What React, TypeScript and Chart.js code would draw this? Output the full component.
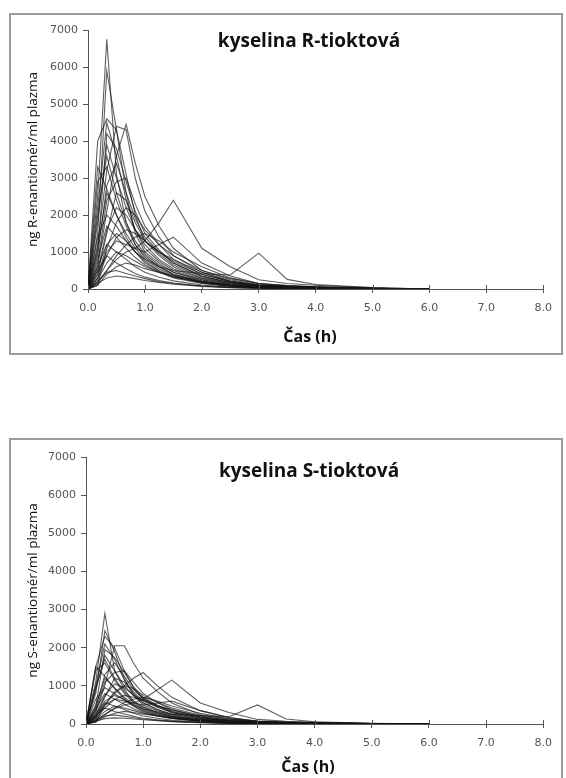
import React, { useEffect, useRef } from 'react';
import { Chart, registerables } from 'chart.js';

Chart.register(...registerables);

// sampling times (h)
const TIMES = [0, 0.17, 0.33, 0.5, 0.67, 0.83, 1, 1.25, 1.5, 2, 2.5, 3, 3.5, 4, 5, 6];

const X_TICKS_MIN = 0;
const X_TICKS_MAX = 8;
const Y_TICKS_MIN = 0;
const Y_TICKS_MAX = 7000;

const R_TITLE = 'kyselina R-tioktová';
const S_TITLE = 'kyselina S-tioktová';
const R_Y_LABEL = 'ng R-enantiomér/ml plazma';
const S_Y_LABEL = 'ng S-enantiomér/ml plazma';
const X_LABEL = 'Čas (h)';

// R-enantiomer plasma concentrations, one row per subject
const R_CONC = [
  [0, 2500, 6750, 3100, 1800, 1200, 900, 600, 400, 200, 100, 50, 30, 20, 10, 0],
  [0, 1500, 5900, 4300, 2600, 1500, 1000, 700, 450, 250, 120, 60, 40, 30, 10, 0],
  [0, 4000, 4600, 4300, 3100, 2000, 1300, 900, 600, 300, 150, 80, 50, 30, 10, 0],
  [0, 600, 2100, 3600, 4450, 3400, 2500, 1700, 1100, 500, 250, 120, 80, 50, 20, 0],
  [0, 1200, 3200, 4400, 4300, 3000, 2100, 1400, 900, 450, 200, 100, 60, 40, 15, 0],
  [0, 200, 500, 800, 1000, 1100, 1300, 1800, 2400, 1100, 600, 250, 150, 100, 30, 0],
  [0, 300, 1200, 1500, 1300, 1000, 800, 600, 500, 420, 380, 970, 260, 120, 40, 0],
  [0, 400, 1000, 1300, 1200, 1100, 1000, 1200, 1400, 700, 350, 150, 90, 60, 20, 0],
  [0, 2200, 4500, 3600, 2400, 1600, 1100, 750, 500, 250, 120, 70, 40, 30, 10, 0],
  [0, 1800, 3900, 3000, 2200, 1600, 1200, 800, 550, 280, 140, 70, 40, 25, 10, 0],
  [0, 900, 2800, 3400, 2600, 1900, 1400, 1000, 700, 350, 170, 90, 50, 30, 10, 0],
  [0, 2900, 3300, 2400, 1700, 1200, 850, 600, 400, 200, 100, 50, 30, 20, 5, 0],
  [0, 700, 2400, 2900, 3000, 2300, 1700, 1200, 800, 400, 200, 100, 60, 40, 15, 0],
  [0, 1100, 2600, 2000, 1500, 1100, 800, 550, 380, 180, 90, 40, 25, 15, 5, 0],
  [0, 500, 1600, 2200, 2000, 1600, 1300, 1000, 800, 450, 220, 110, 70, 45, 15, 0],
  [0, 1400, 2000, 1700, 1300, 1000, 750, 500, 350, 170, 80, 40, 25, 15, 5, 0],
  [0, 300, 900, 1400, 1600, 1500, 1300, 1000, 750, 400, 200, 100, 60, 40, 15, 0],
  [0, 800, 1700, 1400, 1100, 850, 650, 450, 300, 150, 70, 35, 20, 10, 5, 0],
  [0, 150, 500, 900, 1200, 1400, 1500, 1300, 1000, 600, 300, 150, 90, 60, 20, 0],
  [0, 600, 1200, 1000, 800, 600, 450, 320, 220, 110, 50, 25, 15, 10, 5, 0],
  [0, 250, 700, 1000, 900, 750, 600, 450, 330, 180, 90, 45, 25, 15, 5, 0],
  [0, 100, 400, 600, 700, 650, 550, 450, 350, 200, 100, 50, 30, 20, 5, 0],
  [0, 200, 450, 500, 420, 350, 280, 200, 150, 80, 40, 20, 10, 5, 0, 0],
  [0, 3300, 2700, 2000, 1400, 1000, 700, 480, 320, 160, 80, 40, 20, 10, 5, 0],
  [0, 1000, 4200, 3800, 2900, 2100, 1500, 1050, 700, 350, 170, 90, 50, 30, 10, 0],
  [0, 400, 1500, 2600, 2400, 1800, 1300, 950, 650, 330, 160, 80, 45, 30, 10, 0],
  [0, 2000, 3600, 2600, 1800, 1300, 950, 650, 450, 220, 110, 55, 30, 20, 5, 0],
  [0, 150, 300, 350, 320, 280, 230, 180, 130, 70, 35, 20, 10, 5, 0, 0],
  [0, 100, 1100, 1800, 2200, 2000, 1600, 1200, 900, 500, 280, 150, 80, 50, 20, 0],
  [0, 500, 900, 700, 550, 420, 320, 230, 160, 80, 40, 20, 10, 5, 0, 0],
];

// S-enantiomer plasma concentrations, one row per subject
const S_CONC = [
  [0, 1100, 2900, 1400, 900, 600, 450, 300, 200, 100, 50, 25, 15, 10, 5, 0],
  [0, 800, 2450, 1900, 1200, 750, 500, 350, 230, 120, 60, 30, 20, 15, 5, 0],
  [0, 1500, 2300, 2000, 1400, 950, 650, 450, 300, 150, 75, 40, 25, 15, 5, 0],
  [0, 300, 1000, 2050, 2050, 1600, 1200, 850, 550, 250, 120, 60, 40, 25, 10, 0],
  [0, 200, 500, 800, 1000, 1200, 1350, 1000, 700, 350, 170, 80, 50, 35, 10, 0],
  [0, 100, 250, 400, 500, 550, 650, 900, 1150, 550, 300, 120, 70, 45, 15, 0],
  [0, 150, 600, 750, 650, 500, 400, 320, 260, 220, 190, 500, 130, 60, 20, 0],
  [0, 200, 500, 650, 600, 550, 500, 550, 600, 350, 170, 70, 45, 30, 10, 0],
  [0, 1000, 2100, 1700, 1150, 800, 550, 380, 250, 120, 60, 35, 20, 15, 5, 0],
  [0, 900, 1800, 1400, 1000, 750, 560, 380, 260, 130, 65, 35, 20, 12, 5, 0],
  [0, 400, 1300, 1600, 1250, 900, 670, 480, 330, 170, 80, 40, 25, 15, 5, 0],
  [0, 1400, 1600, 1150, 800, 560, 400, 280, 190, 95, 45, 25, 15, 10, 0, 0],
  [0, 350, 1100, 1350, 1400, 1100, 800, 560, 380, 190, 95, 50, 30, 20, 5, 0],
  [0, 500, 1200, 950, 700, 520, 380, 260, 180, 85, 40, 20, 12, 8, 0, 0],
  [0, 250, 750, 1050, 950, 760, 620, 480, 380, 210, 100, 50, 35, 20, 5, 0],
  [0, 650, 950, 800, 620, 470, 350, 240, 165, 80, 40, 20, 12, 8, 0, 0],
  [0, 150, 420, 650, 750, 700, 620, 480, 360, 190, 95, 45, 30, 20, 5, 0],
  [0, 380, 800, 650, 520, 400, 300, 210, 140, 70, 35, 15, 10, 5, 0, 0],
  [0, 80, 250, 420, 560, 650, 700, 600, 470, 280, 140, 70, 45, 30, 10, 0],
  [0, 280, 560, 470, 380, 280, 210, 150, 100, 50, 25, 12, 8, 5, 0, 0],
  [0, 120, 330, 470, 420, 350, 280, 210, 155, 85, 40, 20, 12, 8, 0, 0],
  [0, 50, 190, 280, 330, 300, 260, 210, 165, 95, 45, 25, 15, 10, 0, 0],
  [0, 90, 210, 240, 200, 165, 130, 95, 70, 40, 20, 10, 5, 0, 0, 0],
  [0, 1500, 1250, 930, 650, 470, 330, 220, 150, 75, 35, 18, 10, 5, 0, 0],
  [0, 450, 1950, 1750, 1350, 980, 700, 490, 330, 165, 80, 40, 25, 15, 5, 0],
  [0, 180, 700, 1200, 1100, 840, 600, 440, 300, 150, 75, 35, 20, 15, 5, 0],
  [0, 950, 1700, 1200, 850, 600, 440, 300, 210, 100, 50, 25, 15, 10, 0, 0],
  [0, 70, 140, 160, 150, 130, 110, 85, 60, 35, 15, 8, 5, 0, 0, 0],
  [0, 50, 500, 850, 1000, 930, 750, 560, 420, 230, 130, 70, 40, 25, 10, 0],
  [0, 230, 420, 330, 260, 200, 150, 110, 75, 40, 20, 10, 5, 0, 0, 0],
];

type Box = { left: number; top: number; width: number; height: number };
type Plot = { left: number; right: number; top: number; bottom: number };

const overlayPlugin = {
  id: 'overlay',
  afterDraw(chart: any, _args: any, opts: any) {
    const { ctx, chartArea, scales } = chart;
    ctx.save();
    // tick marks crossing the x axis (upper half)
    ctx.strokeStyle = '#555';
    ctx.lineWidth = 1;
    scales.x.ticks.forEach((t: any) => {
      const px = Math.round(scales.x.getPixelForValue(t.value)) + 0.5;
      ctx.beginPath();
      ctx.moveTo(px, chartArea.bottom);
      ctx.lineTo(px, chartArea.bottom - 4);
      ctx.stroke();
    });
    ctx.fillStyle = '#111';
    ctx.textAlign = 'center';
    ctx.textBaseline = 'middle';
    ctx.font = 'bold 19px "Open Sans"';
    ctx.fillText(opts.text, opts.x, opts.y);
    ctx.font = 'bold 16px "Open Sans"';
    ctx.fillText(opts.xText, opts.xTextX, opts.xTextY);
    ctx.restore();
  },
};

function Panel(props: {
  box: Box;
  plot: Plot;
  title: string;
  titlePos: { x: number; y: number };
  xTitlePos: { x: number; y: number };
  yLabel: string;
  rows: number[][];
}) {
  const ref = useRef<HTMLCanvasElement>(null);
  const { box, plot } = props;
  const cLeft = box.left + 2;
  const cTop = box.top + 2;
  const cW = box.width - 4;
  const cH = box.height - 4;

  useEffect(() => {
    const canvas = ref.current;
    if (!canvas) return;
    const datasets = props.rows.map((row, i) => ({
      label: 'subjekt ' + (i + 1),
      data: row.map((v, k) => ({ x: TIMES[k], y: v })),
      borderColor: 'rgba(20,20,20,0.68)',
      borderWidth: 1.1,
      pointRadius: 0,
      tension: 0,
      fill: false,
    }));
    const chart = new Chart(canvas, {
      type: 'line',
      data: { datasets },
      plugins: [overlayPlugin],
      options: {
        animation: false,
        responsive: false,
        maintainAspectRatio: false,
        events: [],
        layout: {
          padding: {
            left: 0,
            top: plot.top - cTop,
            right: cLeft + cW - plot.right,
            bottom: 0,
          },
        },
        plugins: {
          legend: { display: false },
          tooltip: { enabled: false },
          title: { display: false },
          overlay: {
            text: props.title,
            x: props.titlePos.x - cLeft,
            y: props.titlePos.y - cTop,
            xText: X_LABEL,
            xTextX: props.xTitlePos.x - cLeft,
            xTextY: props.xTitlePos.y - cTop,
          },
        } as any,
        scales: {
          x: {
            type: 'linear',
            min: X_TICKS_MIN,
            max: X_TICKS_MAX,
            afterFit: (s: any) => {
              s.height = cTop + cH - plot.bottom;
            },
            grid: { drawOnChartArea: false, drawTicks: true, tickLength: 4, color: '#555' },
            border: { display: true, color: '#555', width: 1 },
            ticks: {
              stepSize: 1,
              color: '#555',
              padding: 9,
              maxRotation: 0,
              font: { family: '"DejaVu Sans"', size: 11 },
              callback: (v: any) => Number(v).toFixed(1),
            },
            title: { display: false },
          },
          y: {
            type: 'linear',
            min: Y_TICKS_MIN,
            max: Y_TICKS_MAX,
            afterFit: (s: any) => {
              s.width = plot.left - cLeft;
            },
            grid: { drawOnChartArea: false, drawTicks: true, tickLength: 5, color: '#555' },
            border: { display: true, color: '#555', width: 1 },
            ticks: {
              stepSize: 1000,
              color: '#555',
              padding: 5,
              font: { family: '"DejaVu Sans"', size: 11 },
              callback: (v: any) => String(v),
            },
            title: {
              display: true,
              text: props.yLabel,
              color: '#111',
              font: { family: '"Open Sans"', size: 13.5 },
              padding: { top: 14, bottom: 0 },
            },
          },
        },
      } as any,
    });
    return () => chart.destroy();
  }, []);

  return (
    <div
      style={{
        position: 'absolute',
        left: box.left,
        top: box.top,
        width: box.width,
        height: box.height,
        border: '2px solid #9c9c9c',
        boxSizing: 'border-box',
        background: '#fff',
      }}
    >
      <canvas ref={ref} width={cW} height={cH} style={{ display: 'block', width: cW, height: cH }} />
    </div>
  );
}

export default function App() {
  useEffect(() => {
    document.documentElement.style.overflow = 'hidden';
    document.body.style.overflow = 'hidden';
  }, []);
  return (
    <div>
      <Panel
        box={{ left: 9, top: 13, width: 554, height: 342 }}
        plot={{ left: 88, right: 549, top: 30, bottom: 289 }}
        title={R_TITLE}
        titlePos={{ x: 309, y: 42 }}
        xTitlePos={{ x: 310, y: 337 }}
        yLabel={R_Y_LABEL}
        rows={R_CONC}
      />
      <Panel
        box={{ left: 9, top: 438, width: 554, height: 344 }}
        plot={{ left: 86, right: 548, top: 457, bottom: 724 }}
        title={S_TITLE}
        titlePos={{ x: 309, y: 472 }}
        xTitlePos={{ x: 308, y: 767 }}
        yLabel={S_Y_LABEL}
        rows={S_CONC}
      />
    </div>
  );
}
